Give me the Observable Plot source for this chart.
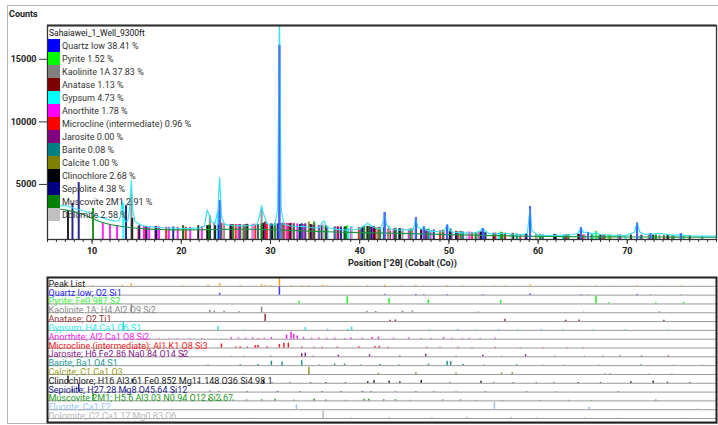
<!DOCTYPE html>
<html><head><meta charset="utf-8">
<script src="https://cdn.jsdelivr.net/npm/d3@7"></script>
<script src="https://cdn.jsdelivr.net/npm/@observablehq/plot@0.6"></script>
<style>
body{margin:0;background:#fff;}
#wrap{position:relative;width:718px;height:425px;overflow:hidden;font-family:Roboto,"Open Sans",sans-serif;}
#frame{position:absolute;left:7px;top:5px;width:711px;height:419px;border:1px solid #b4b4b4;border-right:none;box-sizing:border-box;}
#topc{position:absolute;left:0;top:0;}
#botc{position:absolute;left:0;top:270px;}
#counts{position:absolute;left:9px;top:9px;font-size:9px;font-weight:bold;color:#222;}
#xlab{position:absolute;left:348px;top:258px;font-size:9px;font-weight:bold;color:#222;white-space:nowrap;}
#legend{position:absolute;left:48px;top:27px;font-size:9px;color:#333;}
#legend .ttl{height:12px;line-height:12px;font-size:8.5px;color:#111;padding-left:1px;}
#legend .row{height:13px;display:flex;align-items:center;white-space:nowrap;}
#legend .sw{width:12px;height:13px;margin-right:2px;}
</style></head>
<body>
<div id="wrap">
<div id="frame"></div>
<div id="topc"></div>
<div id="botc"></div>
<div id="counts">Counts</div>
<div id="xlab">Position [°2θ] (Cobalt (Co))</div>
<div id="legend"></div>
</div>
<script>
// ---- data ----
const sampleName = "Sahaiawei_1_Well_9300ft";
const xTicks = [10, 20, 30, 40, 50, 60, 70];
const yTicks = [5000, 10000, 15000];

// observed pattern [2theta, counts]
const observed = [[5.0,3200],[5.5,3220],[6.0,3250],[6.5,3280],[7.0,3320],[7.5,3220],[8.0,3080],[8.5,2980],[9.0,2900],[9.5,2800],[10.0,2660],[10.5,2500],[11.0,2360],[11.5,2250],[12.0,2150],[12.5,2090],[13.0,2080],[13.2,2500],[13.35,3700],[13.5,2500],[13.7,2050],[14.0,2080],[14.2,3000],[14.4,5300],[14.55,3000],[14.8,2050],[15.2,1850],[15.6,1720],[16.0,1660],[17.0,1590],[18.0,1540],[19.0,1510],[20.0,1480],[21.0,1490],[22.0,1530],[22.6,1680],[22.9,2950],[23.1,2600],[23.4,2000],[23.8,1950],[24.1,2900],[24.3,5550],[24.5,2500],[24.8,1850],[25.5,1720],[26.0,1680],[26.5,1720],[27.0,1680],[27.5,1720],[28.0,1720],[28.5,1820],[28.8,2600],[29.0,3300],[29.2,2700],[29.6,1900],[30.0,1760],[30.5,1760],[30.8,3000],[31.0,19000],[31.2,3000],[31.5,1820],[32.0,1720],[32.5,1660],[33.0,1620],[33.5,1660],[34.0,1620],[34.5,1560],[35.0,1520],[35.5,1560],[35.8,2000],[36.0,2080],[36.3,1600],[37.0,1460],[37.5,1410],[38.0,1380],[38.5,1350],[39.0,1380],[39.5,1400],[40.0,1450],[40.5,1700],[40.9,1900],[41.3,1700],[41.8,1500],[42.3,1450],[42.6,1900],[42.8,2700],[43.0,1800],[43.5,1400],[44.0,1380],[44.5,1350],[45.0,1400],[45.5,1350],[46.0,1400],[46.3,2300],[46.5,1600],[47.0,1400],[47.2,1650],[47.4,1350],[48.0,1250],[48.5,1250],[49.0,1200],[49.5,1300],[49.8,1800],[50.1,1300],[50.5,1180],[51.0,1150],[52.0,1100],[53.0,1150],[53.5,1300],[53.8,1500],[54.1,1250],[54.5,1100],[55.0,1050],[56.0,1080],[56.5,1100],[57.0,1000],[58.0,950],[58.8,1100],[59.1,3200],[59.3,1300],[60.0,950],[61.0,930],[62.0,920],[63.0,950],[64.0,1000],[64.5,1100],[64.8,1550],[65.1,1150],[65.5,1200],[66.0,1050],[66.5,1150],[67.0,1000],[68.0,950],[69.0,930],[70.0,950],[70.8,1200],[71.1,1950],[71.4,1200],[72.0,1000],[73.0,1050],[73.5,1100],[74.0,1050],[75.0,950],[75.8,950],[76.0,1080],[76.2,950],[77.0,900],[78.0,880],[79.0,870],[80.0,870]];

// background curve [2theta, counts]
const background = [[5,3150],[6,3060],[7,2960],[8,2810],[9,2600],[10,2300],[11,2000],[12,1800],[13,1680],[14,1580],[15,1500],[16,1450],[18,1400],[20,1370],[22,1380],[24,1400],[26,1420],[28,1420],[30,1380],[32,1330],[34,1280],[36,1230],[38,1180],[40,1150],[42,1120],[44,1100],[46,1070],[48,1030],[50,990],[52,960],[54,930],[56,900],[58,870],[60,850],[62,840],[64,830],[66,820],[68,810],[70,800],[72,800],[74,800],[76,790],[78,790],[80,790]];

// reference sticks per phase: [2theta, relative intensity, top count in main plot]
const quartz = [[24.3,0.22,3700],[31.0,1,16100],[42.8,0.1,2760],[46.3,0.09,2360],[47.2,0.05,1640],[49.8,0.06,1750],[53.8,0.05,1480],[59.1,0.15,3240],[64.8,0.06,1560],[65.6,0.03,1150],[71.1,0.08,1900],[72.6,0.03,1050],[76.0,0.03,1080]];
const pyrite = [[33.2,0.3,1600],[38.6,0.9,1700],[43.3,0.65,1600],[47.7,0.5,1450],[55.8,0.45,1200],[66.5,0.95,1250],[67.9,0.15,950],[73.2,0.15,950],[76.3,0.2,900]];
const kaolinite = [[14.4,1,4200],[23.2,0.3,2500],[23.7,0.2,1900],[24.8,0.2,1850],[26.5,0.12,1750],[29.0,0.7,3000],[40.8,0.2,1650],[41.8,0.15,1550],[44.8,0.2,1450],[45.9,0.22,1450],[53.3,0.1,1150],[65.1,0.08,950],[73.6,0.12,950]];
const anatase = [[29.4,0.9,2000],[43.4,0.15,1250],[44.0,0.2,1300],[56.3,0.3,1100],[63.1,0.15,950],[64.6,0.2,1000],[74.1,0.15,900]];
const gypsum = [[13.5,1,3500],[24.1,0.45,2800],[27.0,0.08,1700],[33.9,0.35,1850],[36.4,0.15,1600],[38.7,0.12,1500],[39.1,0.4,1650],[47.8,0.1,1300],[51.0,0.12,1200],[53.0,0.08,1150],[55.6,0.1,1100],[57.7,0.08,1000],[60.3,0.1,950],[62.8,0.08,950],[66.2,0.08,950],[69.8,0.1,900],[74.5,0.08,900]];
const anorthite = [[11.2,0.05,1900],[12.0,0.05,1800],[12.8,0.05,1700],[15.8,0.08,1650],[16.4,0.06,1620],[17.5,0.05,1600],[18.6,0.06,1580],[19.6,0.05,1560],[21.0,0.06,1580],[22.3,0.1,1620],[25.6,0.18,1800],[26.4,0.15,1800],[27.2,0.12,1800],[28.0,0.16,1820],[28.6,0.1,1800],[29.3,0.12,1820],[30.1,0.2,1850],[31.8,0.5,1880],[32.3,0.85,1900],[32.6,0.6,1880],[33.0,0.4,1850],[33.7,0.2,1800],[34.6,0.12,1750],[35.4,0.15,1700],[36.3,0.1,1650],[37.2,0.12,1600],[38.3,0.1,1550],[39.0,0.15,1550],[40.3,0.12,1550],[41.4,0.2,1550],[42.1,0.25,1550],[43.8,0.12,1450],[45.5,0.15,1400],[46.9,0.1,1350],[48.0,0.1,1300],[49.4,0.2,1300],[50.3,0.1,1250],[51.5,0.08,1200],[52.3,0.1,1200],[53.5,0.08,1150],[55.2,0.1,1100]];
const microcline = [[15.2,0.05,1650],[16.0,0.05,1620],[17.2,0.05,1600],[18.3,0.06,1580],[20.5,0.06,1580],[24.5,0.5,1900],[26.1,0.12,1800],[26.6,0.15,1800],[27.4,0.12,1820],[28.3,0.3,1820],[28.6,0.3,1800],[29.6,0.15,1820],[31.0,0.45,1900],[31.5,0.6,1900],[32.0,0.6,1880],[33.5,0.12,1800],[34.9,0.1,1700],[35.8,0.1,1650],[37.5,0.12,1600],[39.9,0.15,1550],[41.7,0.2,1550],[42.2,0.2,1550],[43.2,0.1,1450],[47.5,0.1,1350],[49.0,0.08,1300],[51.0,0.08,1200],[52.6,0.06,1150],[55.2,0.08,1100],[58.0,0.06,1000],[60.5,0.06,950],[63.2,0.05,950],[65.0,0.05,950]];
const jarosite = [[17.1,0.1,1650],[20.2,0.35,1700],[25.6,0.05,1750],[27.0,0.06,1750],[30.0,0.08,1800],[33.5,0.4,1850],[33.9,0.45,1850],[34.8,0.08,1750],[37.6,0.2,1600],[41.1,0.25,1600],[44.5,0.1,1450],[47.4,0.3,1400],[50.8,0.08,1200],[53.8,0.2,1150],[55.9,0.05,1100],[58.6,0.25,1000],[61.9,0.08,950],[65.2,0.06,950],[67.3,0.06,950],[69.2,0.1,950],[71.6,0.1,950],[74.6,0.12,900]];
const barite = [[23.0,0.08,1700],[26.6,0.1,1800],[28.6,0.15,1800],[30.1,0.55,1850],[31.3,0.45,1900],[33.5,0.6,1850],[35.5,0.08,1700],[37.2,0.2,1600],[38.3,0.2,1600],[40.1,0.08,1550],[42.3,0.15,1550],[44.4,0.08,1450],[47.7,0.2,1400],[49.8,0.55,1450],[50.2,0.5,1450],[51.6,0.15,1200],[53.9,0.08,1150],[57.6,0.12,1050],[60.5,0.06,950],[62.9,0.06,950],[66.8,0.05,900],[71.5,0.1,900],[75.2,0.06,900],[78.4,0.05,850]];
const calcite = [[27.0,0.05,1750],[34.3,0.9,2000],[42.1,0.15,1550],[46.3,0.2,1450],[50.8,0.18,1250],[55.9,0.2,1150],[57.1,0.2,1100],[67.5,0.05,950],[68.1,0.08,950],[72.4,0.05,950],[75.0,0.05,900]];
const clinochlore = [[7.3,0.9,2900],[14.5,0.5,2300],[21.9,0.15,1700],[22.9,0.08,1700],[23.8,0.05,1700],[25.5,0.08,1750],[29.2,0.4,1900],[30.2,0.05,1800],[32.2,0.05,1850],[34.5,0.08,1800],[36.2,0.1,1700],[38.4,0.08,1600],[40.9,0.2,1650],[41.6,0.3,1650],[43.3,0.25,1500],[44.5,0.2,1450],[46.9,0.35,1400],[50.1,0.08,1250],[53.6,0.25,1200],[55.0,0.06,1100],[57.2,0.06,1050],[59.8,0.06,1000],[61.8,0.08,1000],[64.5,0.1,1000],[67.0,0.08,950],[70.4,0.18,950],[72.9,0.25,950],[74.5,0.12,900],[77.0,0.08,900]];
const sepiolite = [[7.8,0.3,3500],[8.5,1,5150],[13.8,0.2,3300],[15.3,0.06,1700],[16.1,0.05,1650],[17.2,0.06,1620],[19.1,0.08,1600],[23.2,0.1,1700],[24.2,0.08,1750],[27.4,0.06,1800],[30.8,0.08,1850],[33.3,0.08,1800],[35.8,0.08,1700],[37.9,0.06,1600],[40.3,0.08,1600],[41.3,0.06,1600],[44.0,0.05,1450],[46.3,0.06,1400],[48.3,0.05,1350],[50.8,0.05,1200],[54.1,0.05,1150],[58.7,0.05,1000],[62.0,0.05,950],[69.0,0.05,950]];
const muscovite = [[10.1,0.9,3080],[20.2,0.1,1650],[23.1,0.3,1750],[24.4,0.2,1750],[25.8,0.1,1800],[27.3,0.12,1800],[29.0,0.15,1850],[30.5,0.2,1900],[32.6,0.1,1850],[34.9,0.25,2000],[36.2,0.1,1700],[38.4,0.08,1600],[40.5,0.2,1650],[41.0,0.2,1650],[42.7,0.15,1550],[44.0,0.15,1500],[45.7,0.08,1450],[49.3,0.12,1350],[51.3,0.12,1250],[53.0,0.06,1150],[56.0,0.06,1100],[60.2,0.05,1000],[63.4,0.08,1000],[66.0,0.06,1000],[73.2,0.12,950]];
const dolomite = [[27.9,0.05,1750],[35.9,0.9,1850],[39.1,0.08,1550],[43.3,0.1,1500],[48.1,0.1,1350],[52.0,0.15,1200],[57.0,0.12,1100],[59.8,0.08,1000],[65.2,0.08,1000],[69.0,0.06,950],[76.0,0.05,900]];
const fluorite = [[32.9,0.6],[55.1,0.9],[65.7,0.35],[69.2,0.05],[77.9,0.1]];
const peakList = [[7.3,0.1],[8.5,0.15],[10.1,0.1],[13.4,0.15],[14.4,0.3],[20.2,0.08],[23.0,0.15],[24.3,0.3],[26.6,0.1],[29.0,0.2],[29.4,0.12],[30.1,0.1],[31.0,1],[32.3,0.1],[33.5,0.1],[34.3,0.1],[35.9,0.12],[36.4,0.08],[38.6,0.08],[39.5,0.06],[40.9,0.1],[42.8,0.15],[44.6,0.06],[46.3,0.12],[47.2,0.08],[49.8,0.1],[51.6,0.06],[53.8,0.08],[55.1,0.06],[56.3,0.06],[59.1,0.15],[61.9,0.05],[64.8,0.08],[66.5,0.06],[68.1,0.05],[71.1,0.1],[73.5,0.05],[76.0,0.06],[78.4,0.05]];

// legend / phase info (legend order)
const phaseNames = ["Quartz low","Pyrite","Kaolinite 1A","Anatase","Gypsum","Anorthite","Microcline (intermediate)","Jarosite","Barite","Calcite","Clinochlore","Sepiolite","Muscovite 2M1","Dolomite"];
const phasePercents = ["38.41","1.52","37.83","1.13","4.73","1.78","0.96","0.00","0.08","1.00","2.68","4.38","2.91","2.58"];
const phaseColors = ["#0000ff","#00ff00","#808080","#800000","#00ffff","#ff00ff","#ff0000","#800080","#008080","#808000","#000000","#000080","#008000","#c0c0c0"];
const phaseSticks = [quartz,pyrite,kaolinite,anatase,gypsum,anorthite,microcline,jarosite,barite,calcite,clinochlore,sepiolite,muscovite,dolomite];

// lower panel rows
const rowLabels = ["Peak List","Quartz low; O2 Si1","Pyrite; Fe0.987 S2","Kaolinite 1A; H4 Al2 O9 Si2","Anatase; O2 Ti1","Gypsum; H4 Ca1 O6 S1","Anorthite; Al2 Ca1 O8 Si2","Microcline (intermediate); Al1 K1 O8 Si3","Jarosite; H6 Fe2.86 Na0.84 O14 S2","Barite; Ba1 O4 S1","Calcite; C1 Ca1 O3","Clinochlore; H16 Al3.61 Fe0.852 Mg11.148 O36 Si4.98 1","Sepiolite; H27.28 Mg8 O45.64 Si12","Muscovite 2M1; H5.6 Al3.03 N0.94 O12 Si2.67","Fluorite; Ca1 F2","Dolomite; C2 Ca1.17 Mg0.83 O6"];
const rowColors = ["#222222","#2222ee","#33ee33","#888888","#993333","#22eeee","#ee22ee","#ee2222","#882288","#229999","#999922","#222222","#222288","#229922","#99c4f0","#b8b8b8"];
const rowSticks = [peakList,quartz,pyrite,kaolinite,anatase,gypsum,anorthite,microcline,jarosite,barite,calcite,clinochlore,sepiolite,muscovite,fluorite,dolomite];
const rowStickColors = ["#ff9a1a","#3333ff","#22ee22","#888888","#993333","#22e0f0","#ee22ee","#ee2222","#882288","#229999","#999922","#222222","#222288","#229922","#99c4f0","#b8b8b8"];

// ---- build tables ----
const mainSticks = [];
phaseSticks.forEach((arr, i) => arr.forEach(([pos, rel, t]) => mainSticks.push({pos, top: t, color: phaseColors[i], order: i === 0 ? 99 : i})));
mainSticks.sort((a, b) => a.order - b.order);
const lowSticks = [];
rowSticks.forEach((arr, i) => arr.forEach(([pos, rel]) => lowSticks.push({pos, base: i + 1, top: i + 1 - rel * 0.92, color: rowStickColors[i]})));
const rows = rowLabels.map((label, i) => ({label, row: i + 1, color: rowColors[i]}));

const font = "Roboto, 'Open Sans', sans-serif";

const topChart = Plot.plot({
  width: 718, height: 270,
  marginLeft: 47, marginRight: 2, marginTop: 25, marginBottom: 31,
  style: {fontFamily: font, fontSize: "9px", background: "transparent", overflow: "visible"},
  x: {domain: [5, 80]},
  y: {domain: [600, 17700]},
  color: {type: "identity"},
  marks: [
    Plot.ruleX(mainSticks, {x: "pos", y1: 600, y2: "top", stroke: "color", strokeWidth: 2, strokeOpacity: 0.85, clip: true}),
    Plot.line(background, {x: d => d[0], y: d => d[1], stroke: "#1c9440", strokeWidth: 1.2, curve: "monotone-x"}),
    Plot.line(observed, {x: d => d[0], y: d => d[1], stroke: "#3ae2f2", strokeWidth: 1.2, clip: true}),
    Plot.ruleX(mainSticks.filter(d => d.order === 99), {x: "pos", y1: 600, y2: "top", stroke: "#4a6cff", strokeWidth: 1.8, strokeOpacity: 0.9}),
    Plot.axisY(yTicks, {tickSize: 8, tickPadding: 3, tickFormat: d => String(d), fontWeight: "bold", label: null, stroke: "#333", fill: "#222"}),
    Plot.axisX(xTicks, {tickSize: 5, tickPadding: 3, fontWeight: "bold", label: null, stroke: "#333", fill: "#222"}),
    Plot.axisX(d3.range(5, 81), {tickSize: 3, text: null, label: null, stroke: "#333"}),
    Plot.frame({stroke: "#333", strokeWidth: 1.3}),
    Plot.ruleY([17700], {stroke: "#333", strokeWidth: 2.2})
  ]
});
document.getElementById("topc").appendChild(topChart);

const botChart = Plot.plot({
  width: 718, height: 155,
  marginLeft: 47, marginRight: 2, marginTop: 7, marginBottom: 3,
  style: {fontFamily: font, fontSize: "9px", background: "transparent"},
  x: {domain: [5, 80], axis: null},
  y: {domain: [16.45, 0], axis: null},
  color: {type: "identity"},
  marks: [
    Plot.ruleY(rows, {y: "row", stroke: "#9a9a9a", strokeWidth: 1}),
    Plot.text(rows, {x: 5, y: "row", text: "label", fill: "color", textAnchor: "start", lineAnchor: "bottom", dx: 1, dy: 0.5}),
    Plot.ruleX(lowSticks, {x: "pos", y1: "base", y2: "top", stroke: "color", strokeWidth: 1.5}),
    Plot.frame({stroke: "#222", strokeWidth: 2})
  ]
});
document.getElementById("botc").appendChild(botChart);

// legend
const lg = document.getElementById("legend");
const ttl = document.createElement("div"); ttl.className = "ttl"; ttl.textContent = sampleName; lg.appendChild(ttl);
phaseNames.forEach((n, i) => {
  const r = document.createElement("div"); r.className = "row";
  const sw = document.createElement("div"); sw.className = "sw"; sw.style.background = phaseColors[i];
  const t = document.createElement("span"); t.textContent = n + " " + phasePercents[i] + " %";
  r.appendChild(sw); r.appendChild(t); lg.appendChild(r);
});
</script>
</body></html>
